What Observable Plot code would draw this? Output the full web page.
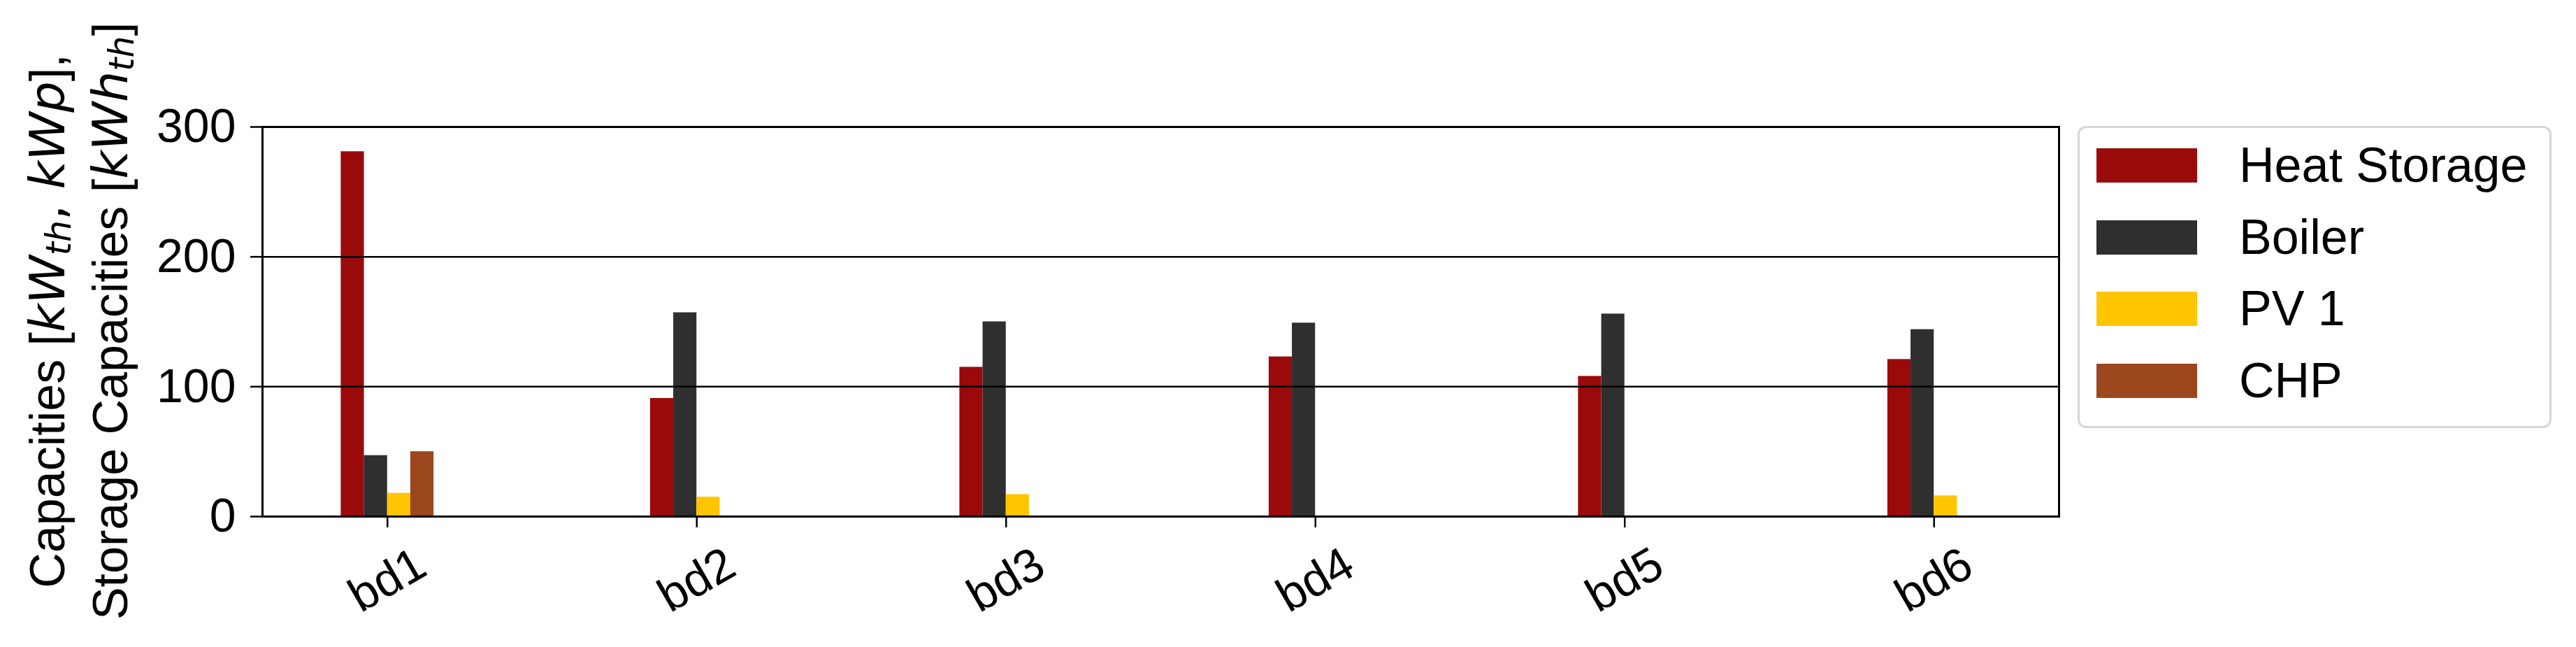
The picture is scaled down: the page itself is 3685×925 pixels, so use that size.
<!DOCTYPE html>
<html>
<head>
<meta charset="utf-8">
<script src="https://cdn.jsdelivr.net/npm/d3@7"></script>
<script src="https://cdn.jsdelivr.net/npm/@observablehq/plot@0.6"></script>
<style>
  html, body { margin: 0; padding: 0; background: white; overflow: hidden; }
  #wrap { position: relative; width: 3685px; height: 925px; }
  #legend {
    position: absolute; left: 2972px; top: 180px; width: 678px; height: 432px;
    box-sizing: border-box; border: 3px solid #d6d6d6; border-radius: 12px; background: white;
    font-family: 'Liberation Sans', Arial, sans-serif; font-size: 70px; color: black;
  }
  .row { position: absolute; left: 24px; height: 49px; display: flex; align-items: center; }
  .sw { width: 144px; height: 49px; margin-right: 60px; }
  .lb { line-height: 49px; white-space: nowrap; }
</style>
</head>
<body>
<div id="wrap"></div>
<script>
// ---- data ----
const categories = ["bd1", "bd2", "bd3", "bd4", "bd5", "bd6"];
const seriesNames = ["Heat Storage", "Boiler", "PV 1", "CHP"];
const heatStorage = [281, 91, 115, 123, 108, 121];
const boiler      = [47, 157, 150, 149, 156, 144];
const pv1         = [18, 15, 17, 0, 0, 16];
const chp         = [50, 0, 0, 0, 0, 0];
const seriesColors = ["#9a0a0a", "#2f2f2f", "#ffc500", "#9c461d"];
const yTicks = [0, 100, 200, 300];
const gridValues = [100, 200];

const seriesValues = [heatStorage, boiler, pv1, chp];
const barWidth = 0.075;
const rows = [];
categories.forEach((c, i) => {
  seriesValues.forEach((vals, k) => {
    if (vals[i] > 0) rows.push({cat: c, idx: i, series: seriesNames[k], k, value: vals[i]});
  });
});

const chart = Plot.plot({
  width: 3685,
  height: 925,
  marginLeft: 375,
  marginRight: 740,
  marginTop: 181,
  marginBottom: 187,
  style: {background: "white", fontFamily: "'Liberation Sans', Arial, sans-serif", fontSize: "68px", color: "black", overflow: "visible"},
  x: {type: "linear", domain: [-0.404, 5.404]},
  y: {domain: [0, 300]},
  color: {domain: seriesNames, range: seriesColors},
  marks: [
    Plot.rectY(rows, {
      x1: d => d.idx + (d.k - 2) * barWidth,
      x2: d => d.idx + (d.k - 1) * barWidth,
      y1: 0,
      y2: "value",
      fill: "series"
    }),
    Plot.ruleY(gridValues, {stroke: "black", strokeWidth: 2.5}),
    Plot.frame({stroke: "black", strokeWidth: 3}),
    Plot.axisY(yTicks, {tickSize: 17, tickPadding: 21, strokeWidth: 2.5, label: null, fontSize: 68}),
    Plot.axisX(categories.map((c, i) => i), {tickSize: 16, strokeWidth: 2.5, tickFormat: () => "", label: null}),
    Plot.text(categories, {
      x: (d, i) => i,
      frameAnchor: "bottom",
      text: d => d,
      dy: 91,
      rotate: -30,
      textAnchor: "middle",
      lineAnchor: "middle",
      fontSize: 68,
      fill: "black"
    })
  ]
});

document.getElementById("wrap").appendChild(chart);

// ---- y-axis label (two lines, with italic math parts) ----
const svg = d3.select(chart);
const lab = svg.append("g")
  .attr("font-family", "'Liberation Sans', Arial, sans-serif")
  .attr("font-size", 70)
  .attr("fill", "black");

function addLine(x, parts) {
  const t = lab.append("text")
    .attr("transform", `translate(${x},459) rotate(-90)`)
    .attr("text-anchor", "middle");
  parts.forEach(p => {
    const s = t.append("tspan").text(p.t);
    if (p.math) s.attr("font-family", "'DejaVu Sans', sans-serif").attr("font-style", p.up ? "normal" : "italic");
    if (p.sub) s.attr("font-size", 49);
    if (p.dy) s.attr("dy", p.dy);
  });
}
addLine(92, [
  {t: "Capacities ["},
  {t: "kW", math: true},
  {t: "th", math: true, sub: true, dy: 9},
  {t: ", ", math: true, up: true, dy: -9},
  {t: "kWp", math: true},
  {t: "],"}
]);
addLine(182, [
  {t: "Storage Capacities ["},
  {t: "kWh", math: true},
  {t: "th", math: true, sub: true, dy: 9},
  {t: "]", dy: -9}
]);

// ---- legend ----
const legend = document.createElement("div");
legend.id = "legend";
seriesNames.forEach((name, k) => {
  const row = document.createElement("div");
  row.className = "row";
  row.style.top = (29 + k * 102.5) + "px";
  const sw = document.createElement("div");
  sw.className = "sw";
  sw.style.background = seriesColors[k];
  const lb = document.createElement("div");
  lb.className = "lb";
  lb.textContent = name;
  row.appendChild(sw);
  row.appendChild(lb);
  legend.appendChild(row);
});
document.getElementById("wrap").appendChild(legend);
</script>
</body>
</html>
